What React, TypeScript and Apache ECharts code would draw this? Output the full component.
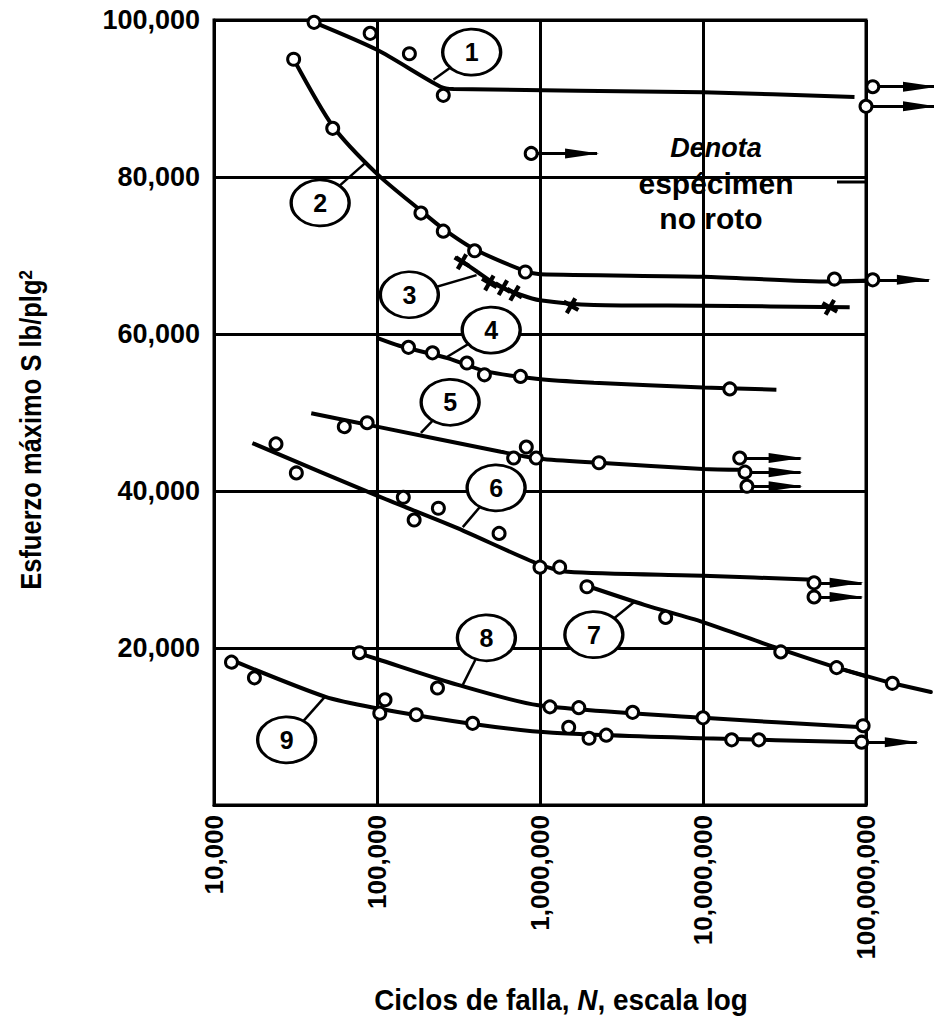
import { useEffect, useRef } from 'react';
import * as echarts from 'echarts';

const FONT = '"Liberation Sans", Arial, Helvetica, sans-serif';

// Axis ranges: cycles to failure (log) and maximum stress in lb/plg²
const xRange = [10000, 100000000];
const yTicks = [0, 20000, 40000, 60000, 80000, 100000];

// Curve 1
const c1Fit = [[41100, 99700], [100000, 96200], [245000, 91500], [295000, 91200], [10000000, 90800], [85000000, 90200]];
const c1Pts = [[41100, 99700], [90800, 98300], [158000, 95700], [255000, 90400]];
// Curve 2
const c2Fit = [[30800, 95000], [53500, 86500], [100000, 80400], [186000, 75700], [255000, 73400], [397000, 70800], [813000, 68000], [1000000, 67600], [10000000, 67300], [60000000, 66700], [110000000, 66800]];
const c2Pts = [[30800, 95000], [53500, 86200], [186000, 75400], [255000, 73100], [397000, 70600], [813000, 67900], [64000000, 67000]];
// Curve 3 (cross markers)
const c3Fit = [[305000, 69800], [414000, 67900], [546000, 66200], [759000, 65000], [1000000, 64300], [2140000, 63700], [10000000, 63600], [79400000, 63400]];
const c3Pts = [[332000, 69200], [489000, 66500], [592000, 65900], [698000, 65200], [1550000, 63600], [60000000, 63400]];
// Curve 4
const c4Fit = [[100000, 59500], [137000, 58500], [274000, 56900], [456000, 55300], [946000, 54300], [2140000, 53800], [10000000, 53200], [28200000, 52900]];
const c4Pts = [[156000, 58300], [219000, 57600], [356000, 56300], [456000, 54800], [759000, 54600], [14600000, 53000]];
// Curve 5
const c5Fit = [[39500, 49900], [100000, 48200], [575000, 45000], [1000000, 44100], [2300000, 43600], [10000000, 42800], [17400000, 42700]];
const c5Pts = [[63000, 48200], [87000, 48700], [689000, 44200], [824000, 45600], [947000, 44200], [2300000, 43600]];
// Curve 6
const c6Fit = [[17200, 46100], [100000, 39400], [301000, 35400], [977000, 30700], [1480000, 29700], [10000000, 29200], [47900000, 28700]];
const c6Pts = [[24000, 46000], [32000, 42300], [145000, 39200], [169000, 36300], [238000, 37800], [561000, 34600], [1000000, 30300], [1320000, 30300]];
// Curve 7
const c7Fit = [[1950000, 27900], [4370000, 25500], [10000000, 23300], [27500000, 20100], [66000000, 17500], [145000000, 15500], [250000000, 14400]];
const c7Pts = [[1940000, 27800], [5900000, 23900], [30000000, 19500], [66000000, 17500], [145000000, 15500]];
// Curve 8
const c8Fit = [[81300, 19200], [100000, 18600], [314000, 15300], [977000, 12700], [10000000, 11100], [95500000, 9900]];
const c8Pts = [[78000, 19400], [235000, 14900], [1150000, 12500], [1730000, 12400], [3700000, 11800], [10000000, 11100], [96000000, 10100]];
// Curve 9
const c9Fit = [[12000, 18700], [47900, 13800], [95500, 12400], [398000, 10300], [1200000, 9200], [10000000, 8500], [94000000, 8000]];
const c9Pts = [[12800, 18200], [17700, 16200], [112000, 13400], [104000, 11700], [174000, 11500], [386000, 10400], [1500000, 9900], [2000000, 8500], [2550000, 8900], [15000000, 8300], [22000000, 8300]];

// Unbroken specimens: [cycles, stress, arrow tip cycles]
const runouts = [
  [110000000, 91500, 265000000],
  [100000000, 89000, 265000000],
  [110000000, 66900, 243000000],
  [16800000, 44200, 39700000],
  [18100000, 42400, 39700000],
  [18600000, 40600, 39700000],
  [48000000, 28300, 94000000],
  [48000000, 26500, 94000000],
  [94000000, 8000, 205000000],
];
// Legend symbol for "Denota espécimen no roto"
const legendMark = [[883000, 83000, 2240000]];

// Curve number badges: [cycles, stress, label]
const badges = [
  [381000, 95900, '1'],
  [44800, 76700, '2'],
  [158000, 65000, '3'],
  [502000, 60500, '4'],
  [281000, 51300, '5'],
  [538000, 40400, '6'],
  [2140000, 21700, '7'],
  [469000, 21300, '8'],
  [27900, 8300, '9'],
];
// Leader from a point on each curve to its badge
const leaderFrom = [
  [222000, 92400],
  [85900, 81900],
  [408000, 67500],
  [270000, 57100],
  [186000, 47400],
  [336000, 35400],
  [3800000, 25900],
  [336000, 15300],
  [48000, 13800],
];

const CROSS = 'path://M0,2 L2,0 L5,3 L8,0 L10,2 L7,5 L10,8 L8,10 L5,7 L2,10 L0,8 L3,5 Z';
const HEAD = 'path://M0,0 L40,5 L0,10 Z';

const curves = [
  { fit: c1Fit, pts: c1Pts, cross: false },
  { fit: c2Fit, pts: c2Pts, cross: false },
  { fit: c3Fit, pts: c3Pts, cross: true },
  { fit: c4Fit, pts: c4Pts, cross: false },
  { fit: c5Fit, pts: c5Pts, cross: false },
  { fit: c6Fit, pts: c6Pts, cross: false },
  { fit: c7Fit, pts: c7Pts, cross: false },
  { fit: c8Fit, pts: c8Pts, cross: false },
  { fit: c9Fit, pts: c9Pts, cross: false },
];

// Parts of curves that run past 100,000,000 cycles (drawn unclipped)
const tails = [c2Fit.slice(-2), c7Fit.slice(-3)];

const openCircle = {
  symbol: 'circle',
  symbolSize: 12,
  itemStyle: { color: '#fff', borderColor: '#000', borderWidth: 3, opacity: 1 },
};

function buildOption() {
  const series: any[] = [];

  series.push({
    type: 'lines',
    coordinateSystem: 'cartesian2d',
    clip: false,
    z: 2,
    silent: true,
    lineStyle: { color: '#000', width: 2.5, opacity: 1 },
    data: leaderFrom.map((p, i) => ({ coords: [p, [badges[i][0], badges[i][1]]] })),
  });

  curves.forEach((c) => {
    series.push({
      type: 'line',
      data: c.fit,
      symbol: 'none',
      smooth: 0.25,
      z: 3,
      lineStyle: { color: '#000', width: 4 },
    });
  });

  series.push({
    type: 'lines',
    coordinateSystem: 'cartesian2d',
    polyline: true,
    clip: false,
    z: 3,
    silent: true,
    lineStyle: { color: '#000', width: 4, opacity: 1, cap: 'round', join: 'round' },
    data: tails.map((t) => ({ coords: t })),
  });

  const allRuns = runouts.concat(legendMark);
  series.push({
    type: 'lines',
    coordinateSystem: 'cartesian2d',
    clip: false,
    z: 3,
    silent: true,
    lineStyle: { color: '#000', width: 3, opacity: 1 },
    data: allRuns.map((r) => ({ coords: [[r[0], r[1]], [r[2], r[1]]] })),
  });
  series.push({
    type: 'scatter',
    clip: false,
    z: 4,
    symbol: HEAD,
    symbolSize: [34, 10],
    symbolOffset: [-15, 0],
    itemStyle: { color: '#000', opacity: 1 },
    data: allRuns.map((r) => [r[2], r[1]]),
  });

  curves.forEach((c) => {
    if (c.cross) {
      series.push({
        type: 'scatter',
        clip: false,
        z: 5,
        symbol: CROSS,
        symbolSize: 15,
        symbolRotate: 15,
        itemStyle: { color: '#000', opacity: 1 },
        data: c.pts,
      });
    } else {
      series.push({ type: 'scatter', clip: false, z: 5, ...openCircle, data: c.pts });
    }
  });
  series.push({
    type: 'scatter',
    clip: false,
    z: 5,
    ...openCircle,
    data: allRuns.map((r) => [r[0], r[1]]),
  });

  series.push({
    type: 'scatter',
    clip: false,
    z: 6,
    symbol: 'circle',
    symbolSize: [58, 46],
    itemStyle: { color: '#fff', borderColor: '#000', borderWidth: 3, opacity: 1 },
    label: {
      show: true,
      position: 'inside',
      formatter: (p: any) => p.value[2],
      color: '#000',
      fontFamily: FONT,
      fontWeight: 'bold',
      fontSize: 25,
    },
    data: badges,
  });

  return {
    animation: false,
    backgroundColor: '#fff',
    grid: {
      left: 214,
      right: 68,
      top: 20,
      bottom: 221,
      show: true,
      borderColor: '#000',
      borderWidth: 3,
      backgroundColor: 'transparent',
    },
    xAxis: {
      type: 'log',
      logBase: 10,
      min: xRange[0],
      max: xRange[1],
      axisLine: { show: true, lineStyle: { color: '#000', width: 3 } },
      axisTick: { show: false },
      splitLine: { show: true, lineStyle: { color: '#000', width: 3 } },
      axisLabel: {
        rotate: 90,
        margin: 10,
        color: '#000',
        fontFamily: FONT,
        fontWeight: 'bold',
        fontSize: 26,
        formatter: (v: number) => Math.round(v).toLocaleString('en-US'),
      },
    },
    yAxis: {
      type: 'value',
      min: yTicks[0],
      max: yTicks[yTicks.length - 1],
      interval: yTicks[1] - yTicks[0],
      axisLine: { show: true, lineStyle: { color: '#000', width: 3 } },
      axisTick: { show: false },
      splitLine: { show: true, lineStyle: { color: '#000', width: 3 } },
      axisLabel: {
        margin: 14,
        color: '#000',
        fontFamily: FONT,
        fontWeight: 'bold',
        fontSize: 27,
        formatter: (v: number) => (v === 0 ? '' : v.toLocaleString('en-US')),
      },
    },
    graphic: [
      {
        type: 'text',
        x: 31,
        y: 430,
        rotation: Math.PI / 2,
        scaleX: 0.88,
        style: {
          text: 'Esfuerzo máximo S lb/plg{sup|2}',
          fill: '#000',
          font: `bold 29px ${FONT}`,
          align: 'center',
          verticalAlign: 'middle',
          rich: {
            sup: { fontSize: 19, fontWeight: 'bold', fontFamily: FONT, verticalAlign: 'top', fill: '#000' },
          },
        },
      },
      {
        type: 'text',
        x: 561,
        y: 1000,
        scaleX: 0.93,
        style: {
          text: 'Ciclos de falla, {i|N}, escala log',
          fill: '#000',
          font: `bold 30px ${FONT}`,
          align: 'center',
          verticalAlign: 'middle',
          rich: {
            i: { fontSize: 30, fontWeight: 'bold', fontStyle: 'italic', fontFamily: FONT, fill: '#000' },
          },
        },
      },
      {
        type: 'text',
        x: 716,
        y: 148,
        style: { text: 'Denota', fill: '#000', font: `italic bold 27px ${FONT}`, align: 'center', verticalAlign: 'middle' },
      },
      {
        type: 'text',
        x: 716,
        y: 183,
        style: { text: 'espécimen', fill: '#000', font: `bold 30px ${FONT}`, align: 'center', verticalAlign: 'middle' },
      },
      {
        type: 'text',
        x: 711,
        y: 218,
        style: { text: 'no roto', fill: '#000', font: `bold 30px ${FONT}`, align: 'center', verticalAlign: 'middle' },
      },
      {
        type: 'line',
        shape: { x1: 837, y1: 182, x2: 865, y2: 182 },
        style: { stroke: '#000', lineWidth: 3 },
      },
    ],
    series,
  };
}

export default function App() {
  const ref = useRef<HTMLDivElement>(null);
  useEffect(() => {
    if (!ref.current) return;
    const chart = echarts.init(ref.current, null, { renderer: 'svg' });
    chart.setOption(buildOption() as any);
    return () => chart.dispose();
  }, []);
  return (
    <div
      ref={ref}
      style={{ position: 'fixed', left: 0, top: 0, width: 934, height: 1026, background: '#fff' }}
    />
  );
}
